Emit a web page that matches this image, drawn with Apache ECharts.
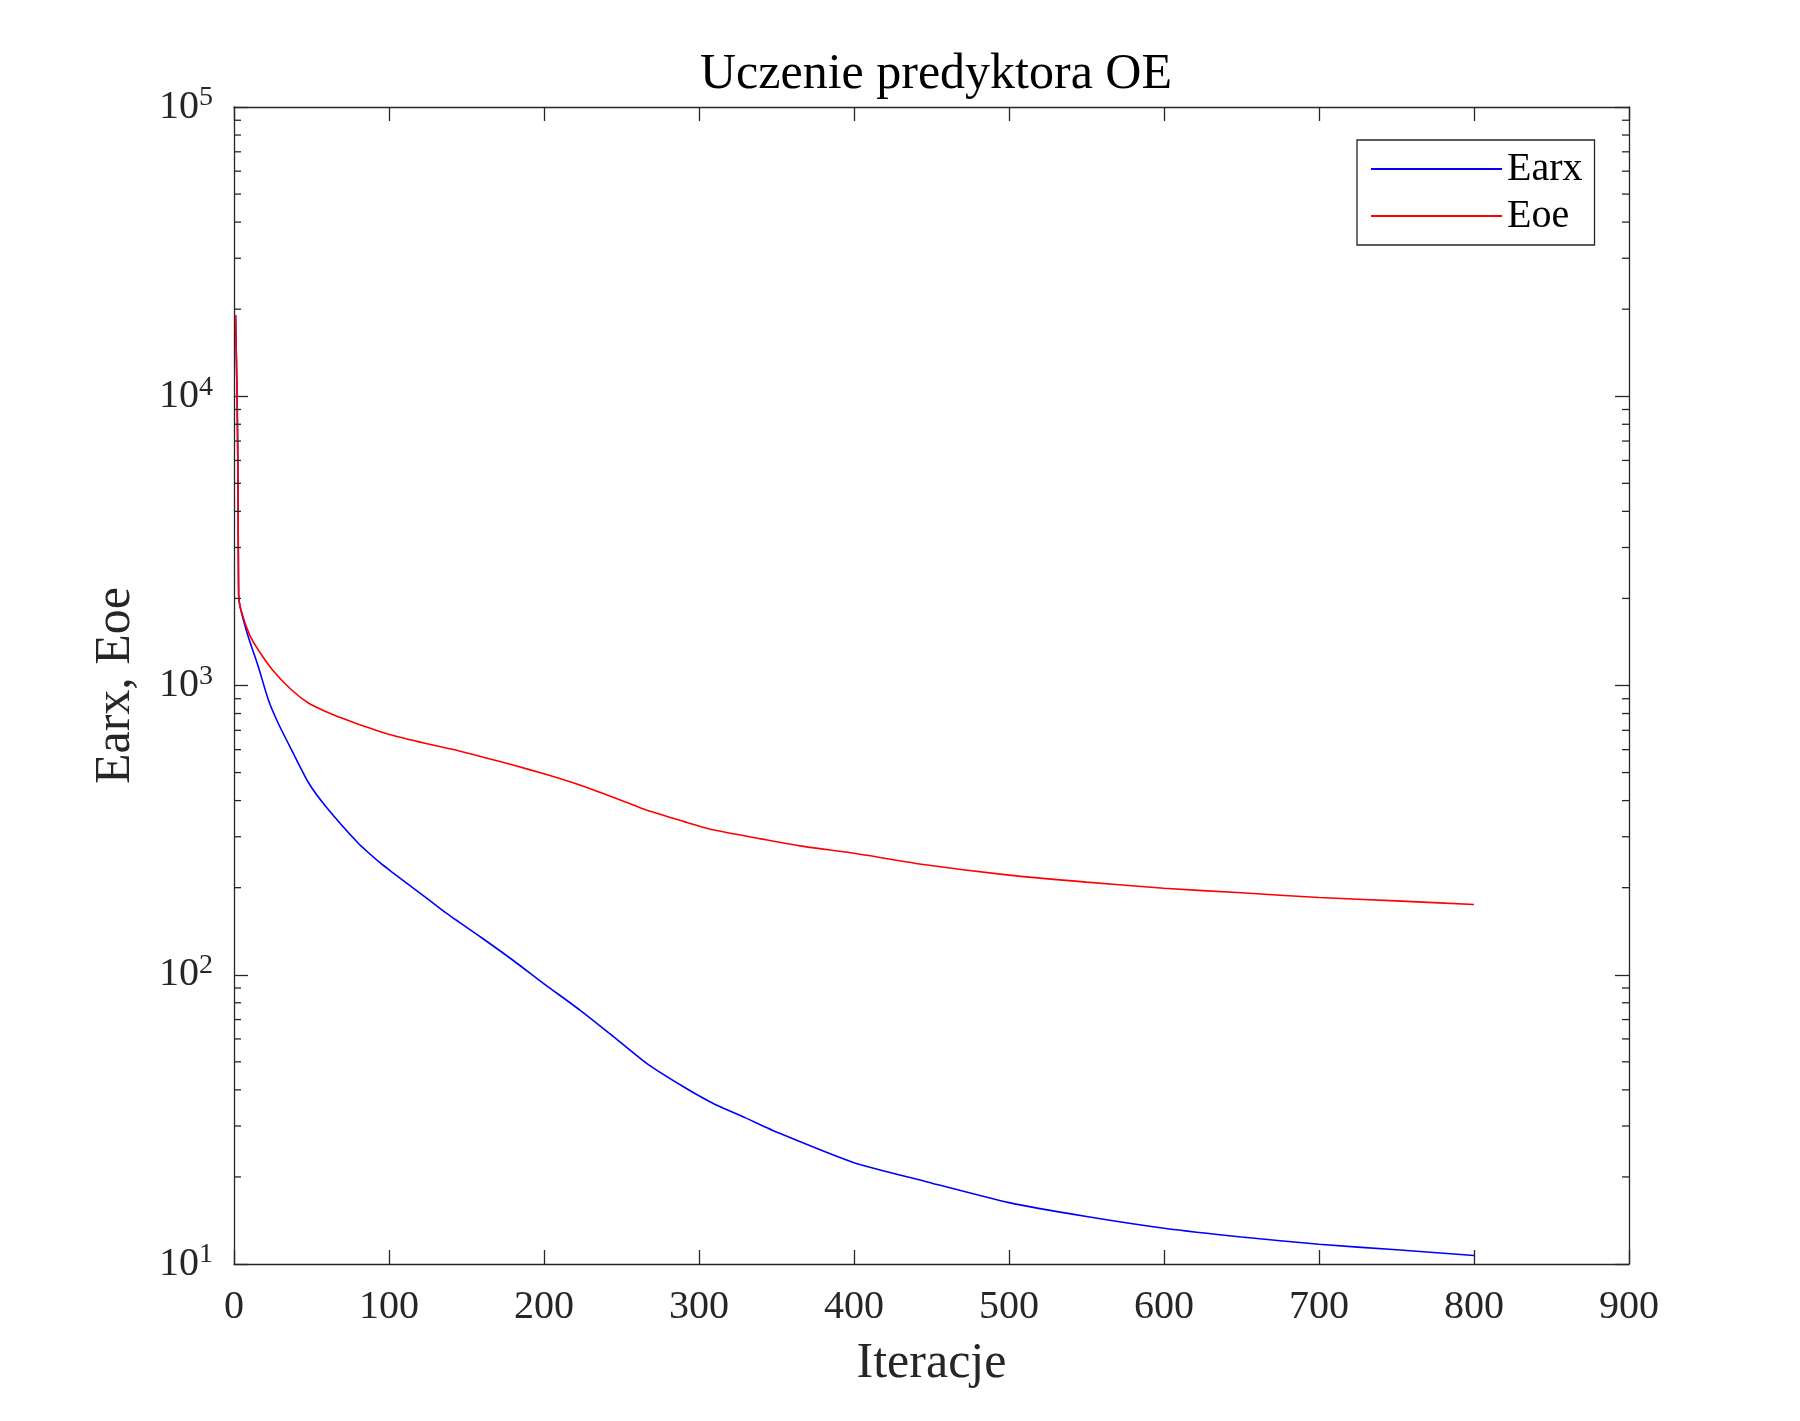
<!DOCTYPE html>
<html>
<head>
<meta charset="utf-8">
<title>Uczenie predyktora OE</title>
<script src="https://cdn.jsdelivr.net/npm/echarts@6/dist/echarts.min.js"></script>
<style>
  html, body { margin: 0; padding: 0; background: #fff; }
  #chart { width: 1800px; height: 1421px; }
</style>
</head>
<body>
<div id="chart"></div>
<script>
// iteration / error pairs
var earx = [
  [1, 19100], [2, 10000], [2.6, 5000], [3, 2050], [3.9, 1872], [9.2, 1475],
  [15.7, 1161], [22.2, 891], [28.6, 739], [37.2, 598], [48, 462], [58.7, 385],
  [80.2, 285], [94.2, 244], [101.7, 227], [123.2, 186], [137.2, 163], [160, 134],
  [180.2, 112], [200, 93], [223.2, 75.5], [245, 61], [266.2, 49.4], [290, 41],
  [309.2, 35.9], [330, 32], [352, 28.3], [400, 22.4], [446, 19.3], [500, 16.3],
  [550, 14.6], [600, 13.3], [650, 12.4], [700, 11.7], [750, 11.2], [800, 10.7]
];
var eoe = [
  [1, 19100], [2, 10000], [2.6, 5000], [3, 2050], [4.5, 1825], [10, 1500],
  [15.7, 1327], [25, 1130], [37.2, 965], [48, 870], [58.7, 815], [70, 770],
  [80.2, 735], [101.7, 674], [123.2, 631], [144.7, 595], [162, 563], [180, 531],
  [200, 495], [223, 453], [245, 410], [266, 371], [290, 339], [309, 317],
  [340, 295], [365, 279], [400, 263], [446, 240], [500, 221], [550, 209],
  [600, 199], [650, 192], [700, 185], [750, 180], [800, 175]
];
var seriesNames = ['Earx', 'Eoe'];
var xMin = 0, xMax = 900, xStep = 100;
var yMin = 10, yMax = 100000;
var minorTicks = [];
for (var d = 10; d < yMax; d *= 10) {
  for (var k = 2; k <= 9; k++) minorTicks.push(k * d);
}

var ink = '#262626';
var font = 'Liberation Serif';

var chart = echarts.init(document.getElementById('chart'), null, { renderer: 'canvas' });

function xAxisBase(pos, show) {
  return {
    type: 'value', position: pos, min: xMin, max: xMax, interval: xStep,
    axisLine: { onZero: false, lineStyle: { color: ink, width: 1.3 } },
    axisTick: { inside: true, length: 14, lineStyle: { color: ink, width: 1.3 } },
    axisLabel: { show: show, color: ink, fontFamily: font, fontSize: 40, margin: 23 },
    splitLine: { show: false }
  };
}
function yAxisBase(pos, show) {
  return {
    type: 'log', logBase: 10, position: pos, min: yMin, max: yMax,
    axisLine: { onZero: false, lineStyle: { color: ink, width: 1.3 } },
    axisTick: { inside: true, length: 14, lineStyle: { color: ink, width: 1.3 } },
    axisLabel: {
      show: show, margin: 21,
      formatter: function(v) {
        return '{b|10}{s|' + Math.round(Math.log10(v)) + '}';
      },
      rich: {
        b: { color: ink, fontFamily: font, fontSize: 40, lineHeight: 46 },
        s: { color: ink, fontFamily: font, fontSize: 28, lineHeight: 46, verticalAlign: 'top', padding: [0, 0, 16, 0] }
      }
    },
    splitLine: { show: false }
  };
}

var xBottom = xAxisBase('bottom', true);
xBottom.name = 'Iteracje';
xBottom.nameLocation = 'middle';
xBottom.nameGap = 75;
xBottom.nameTextStyle = { color: ink, fontFamily: font, fontSize: 50 };
var yLeft = yAxisBase('left', true);
yLeft.name = 'Earx, Eoe';
yLeft.nameLocation = 'middle';
yLeft.nameGap = 93;
yLeft.nameTextStyle = { color: ink, fontFamily: font, fontSize: 50 };

chart.setOption({
  animation: false,
  backgroundColor: '#fff',
  title: {
    text: 'Uczenie predyktora OE',
    left: 931, top: 45, textAlign: 'center',
    textStyle: { color: '#000', fontFamily: font, fontSize: 50, fontWeight: 'normal' }
  },
  grid: { left: 234, right: 171, top: 107, bottom: 157 },
  legend: {
    data: seriesNames,
    orient: 'vertical',
    left: 1357, top: 140,
    padding: [9, 12, 9, 14],
    icon: 'rect',
    itemWidth: 131, itemHeight: 2, itemGap: 7,
    borderColor: ink, borderWidth: 1.3, borderRadius: 0,
    backgroundColor: '#fff',
    textStyle: { color: '#000', fontFamily: font, fontSize: 40, lineHeight: 40, padding: [0, 0, 0, 0] }
  },
  xAxis: [xBottom, xAxisBase('top', false)],
  yAxis: [yLeft, yAxisBase('right', false)],
  series: [
    {
      name: seriesNames[0], type: 'line', data: earx, symbol: 'none', smooth: 0.2,
      lineStyle: { color: '#0000ff', width: 1.6 }, itemStyle: { color: '#0000ff' }, z: 3
    },
    {
      name: seriesNames[1], type: 'line', data: eoe, symbol: 'none', smooth: 0.2,
      lineStyle: { color: '#ff0000', width: 1.6 }, itemStyle: { color: '#ff0000' }, z: 4
    },
    {
      // minor log ticks on left and right edges
      type: 'custom', silent: true, clip: false, z: 5,
      data: minorTicks.map(function(v) { return [xMin, v]; }),
      renderItem: function(params, api) {
        var v = api.value(1);
        var pl = api.coord([xMin, v]);
        var pr = api.coord([xMax, v]);
        var st = { stroke: ink, lineWidth: 1.3 };
        return {
          type: 'group',
          children: [
            { type: 'line', shape: { x1: pl[0], y1: pl[1], x2: pl[0] + 7, y2: pl[1] }, style: st },
            { type: 'line', shape: { x1: pr[0], y1: pr[1], x2: pr[0] - 7, y2: pr[1] }, style: st }
          ]
        };
      }
    }
  ]
});
window.addEventListener('resize', function() { chart.resize(); });
</script>
</body>
</html>
